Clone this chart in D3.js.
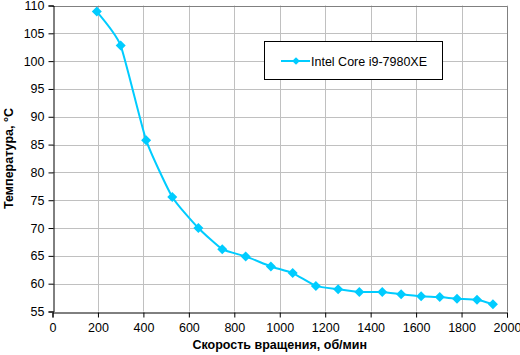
<!DOCTYPE html>
<html><head><meta charset="utf-8">
<script src="https://cdn.jsdelivr.net/npm/d3@7"></script>
<style>body{margin:0;background:#fff}svg{display:block}text{font-family:Arial,"Liberation Sans",sans-serif}</style>
</head><body><svg id="c" width="520" height="355"></svg>
<script>
const seriesName = "Intel Core i9-7980XE";
const rpm  = [195, 300, 412, 527, 642, 747, 850, 961, 1057, 1159, 1257, 1350, 1451, 1534, 1622, 1704, 1780, 1868, 1938];
const temp = [108.9, 102.8, 85.8, 75.6, 70.0, 66.2, 64.9, 63.1, 61.9, 59.6, 59.0, 58.5, 58.5, 58.1, 57.75, 57.6, 57.3, 57.1, 56.3];
const xTicks = [0,200,400,600,800,1000,1200,1400,1600,1800,2000];
const yTicks = [55,60,65,70,75,80,85,90,95,100,105,110];
const xTitle = "Скорость вращения, об/мин";
const yTitle = "Температура, °C";
const color = "#00CCFF";

const svg = d3.select("#c");
const L = 52.5, R = 507, T = 5.5, B = 311.5;
const x = d3.scaleLinear().domain([0,2000]).range([L,R]);
const y = d3.scaleLinear().domain([55,110]).range([B,T]);

// grid
const g = svg.append("g");
g.selectAll("line.vx").data(xTicks.slice(1)).join("line")
  .attr("x1", d=>Math.round(x(d))+0.5).attr("x2", d=>Math.round(x(d))+0.5)
  .attr("y1", T).attr("y2", B).attr("stroke","#c0c0c0").attr("stroke-width",1);
g.selectAll("line.hy").data(yTicks.slice(1)).join("line")
  .attr("y1", d=>Math.round(y(d))+0.5).attr("y2", d=>Math.round(y(d))+0.5)
  .attr("x1", L).attr("x2", R).attr("stroke","#c0c0c0").attr("stroke-width",1);
svg.append("path").attr("d",`M${L},${Math.round(T)+0.5}H${Math.round(R)+0.5}V${B}`)
  .attr("fill","none").attr("stroke","#808080");

// axes
const xa = svg.append("g").attr("transform",`translate(0,${Math.round(B)+0.5})`)
  .call(d3.axisBottom(x).tickValues(xTicks).tickSize(5).tickPadding(6).tickFormat(d3.format("d")));
const ya = svg.append("g").attr("transform",`translate(${Math.round(L)+0.5},0)`)
  .call(d3.axisLeft(y).tickValues(yTicks).tickSize(5).tickPadding(4).tickFormat(d3.format("d")));
[xa,ya].forEach(a=>{
  a.select(".domain").attr("stroke","#000");
  a.selectAll(".tick line").attr("stroke","#000");
  a.selectAll(".tick text").attr("font-size",12.5).attr("fill","#000").attr("font-family","Arial,'Liberation Sans',sans-serif");
});

// line
const line = d3.line().x((d,i)=>x(rpm[i])).y((d,i)=>y(temp[i])).curve(d3.curveCardinal.tension(0.5));
svg.append("path").datum(temp).attr("d",line).attr("fill","none").attr("stroke",color).attr("stroke-width",2);
const sym = d3.symbol().type(d3.symbolSquare).size(50);
svg.selectAll("path.m").data(temp).join("path")
  .attr("transform",(d,i)=>`translate(${x(rpm[i])},${y(temp[i])}) rotate(45)`)
  .attr("d",sym).attr("fill",color);

// titles
svg.append("text").attr("x",(L+R)/2).attr("y",349).attr("text-anchor","middle")
  .attr("font-weight","bold").attr("font-size",12.5).text(xTitle);
svg.append("text").attr("transform",`translate(13,${(T+B)/2}) rotate(-90)`).attr("text-anchor","middle")
  .attr("font-weight","bold").attr("font-size",12.5).text(yTitle);

// legend
const lg = svg.append("g");
lg.append("rect").attr("x",264.5).attr("y",41.5).attr("width",178).attr("height",38)
  .attr("fill","#fff").attr("stroke","#000");
lg.append("line").attr("x1",281).attr("x2",310).attr("y1",61).attr("y2",61).attr("stroke",color).attr("stroke-width",2);
lg.append("path").attr("transform","translate(296,61) rotate(45)").attr("d",d3.symbol().type(d3.symbolSquare).size(30)).attr("fill",color);
lg.append("text").attr("x",311).attr("y",65.5).attr("font-size",12.5).text(seriesName);
</script></body></html>
